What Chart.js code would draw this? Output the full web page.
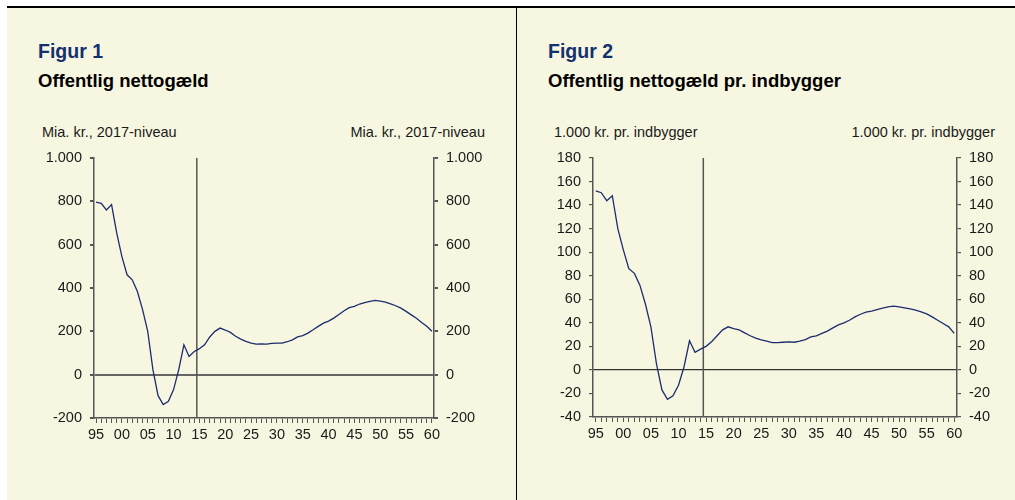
<!DOCTYPE html>
<html lang="da">
  <head>
    <meta charset="UTF-8" />
    <title>Offentlig nettogæld</title>
    <script src="https://cdn.jsdelivr.net/npm/chart.js"></script>
    <style>
      body {
        margin: 0;
        background: #fff;
        font-family: "Liberation Sans", Arial, sans-serif;
      }
      .ramme {
        position: absolute;
        left: 7px;
        top: 6px;
        width: 1008px;
        height: 492px;
        background: #f7f7e1;
        border-top: 2px solid #000;
      }
      .skille {
        position: absolute;
        left: 516px;
        top: 6px;
        width: 1px;
        height: 494px;
        background: #000;
      }
      .txt {
        position: absolute;
        white-space: nowrap;
      }
      .figur {
        font-size: 19.5px;
        line-height: 20px;
        font-weight: bold;
        color: #14306e;
        top: 41px;
      }
      .titel {
        font-size: 18.5px;
        line-height: 19px;
        font-weight: bold;
        color: #000;
        top: 71px;
      }
      .enhed {
        font-size: 14.5px;
        line-height: 15px;
        color: #1a1a1a;
        top: 125px;
      }
      canvas {
        position: absolute;
        top: 140px;
      }
    </style>
  </head>
  <body>
    <div class="ramme"></div>
    <div class="skille"></div>

    <div class="txt figur" style="left: 38px">Figur 1</div>
    <div class="txt titel" style="left: 38px">Offentlig nettogæld</div>
    <div class="txt enhed" style="left: 42px">Mia. kr., 2017-niveau</div>
    <div class="txt enhed" style="right: 530px">Mia. kr., 2017-niveau</div>

    <div class="txt figur" style="left: 548px">Figur 2</div>
    <div class="txt titel" style="left: 548px">Offentlig nettogæld pr. indbygger</div>
    <div class="txt enhed" style="left: 554px">1.000 kr. pr. indbygger</div>
    <div class="txt enhed" style="right: 20px">1.000 kr. pr. indbygger</div>

    <canvas id="figur1" width="517" height="300" style="left: 0px"></canvas>
    <canvas id="figur2" width="498" height="300" style="left: 517px"></canvas>

    <script>
      // år 1995-2060
      const aar = [
        1995, 1996, 1997, 1998, 1999, 2000, 2001, 2002, 2003, 2004, 2005,
        2006, 2007, 2008, 2009, 2010, 2011, 2012, 2013, 2014, 2015, 2016,
        2017, 2018, 2019, 2020, 2021, 2022, 2023, 2024, 2025, 2026, 2027,
        2028, 2029, 2030, 2031, 2032, 2033, 2034, 2035, 2036, 2037, 2038,
        2039, 2040, 2041, 2042, 2043, 2044, 2045, 2046, 2047, 2048, 2049,
        2050, 2051, 2052, 2053, 2054, 2055, 2056, 2057, 2058, 2059, 2060,
      ];

      // Figur 1: mia. kr., 2017-niveau
      const nettogaeld = [
        796, 791, 760, 785, 653, 545, 461, 438, 384, 300, 200, 23, -97, -138,
        -123, -69, 23, 138, 84, 107, 120, 138, 174, 200, 215, 206, 195, 177,
        164, 154, 146, 141, 142, 141, 144, 146, 146, 152, 161, 174, 180, 192,
        207, 223, 238, 247, 261, 278, 295, 309, 315, 326, 333, 338, 343, 339,
        335, 327, 318, 307, 292, 276, 260, 241, 223, 200,
      ];

      // Figur 2: 1.000 kr. pr. indbygger
      const prIndbygger = [
        152, 150.5, 143.7, 148, 120, 102, 86, 82, 72, 56, 36.6, 5.4, -17, -25,
        -22, -13, 2.5, 24.7, 15, 17.6, 20, 24, 29, 34, 36.6, 35, 34, 31.5, 29,
        27, 25.5, 24.4, 23.2, 23.2, 23.5, 23.8, 23.5, 24.4, 25.8, 28, 29, 31,
        33, 35.7, 38.3, 40, 42.2, 45, 47.3, 49, 50, 51.3, 52.4, 53.6, 54.1,
        53.6, 52.7, 51.9, 50.7, 49.3, 47.6, 45, 42.2, 39.4, 36.6, 31,
      ];

      const yTicks1 = [-200, 0, 200, 400, 600, 800, 1000];
      const yTicks2 = [-40, -20, 0, 20, 40, 60, 80, 100, 120, 140, 160, 180];
      const skilleAar = 2014.5; // lodret streg mellem historik og fremskrivning

      const aksefarve = "#555";
      const linjefarve = "#1c2c6e";

      Chart.defaults.font.family = "'Liberation Sans', Arial, sans-serif";
      Chart.defaults.font.size = 14.5;
      Chart.defaults.color = "#1a1a1a";

      const fmt = (v) => String(v).replace(/\B(?=(\d{3})+(?!\d))/g, ".");

      const lodretStreg = {
        id: "lodretStreg",
        beforeDatasetsDraw(chart) {
          const { ctx, chartArea, scales } = chart;
          const x = scales.x.getPixelForValue(skilleAar);
          ctx.save();
          ctx.strokeStyle = aksefarve;
          ctx.lineWidth = 1.5;
          ctx.beginPath();
          ctx.moveTo(x, chartArea.top);
          ctx.lineTo(x, chartArea.bottom);
          ctx.stroke();
          ctx.restore();
        },
      };

      function lavFigur(id, vaerdier, yTicks, opsaet) {
        const yAkse = (side, bredde, nullinje) => ({
          position: side,
          min: yTicks[0],
          max: yTicks[yTicks.length - 1],
          afterBuildTicks: (s) => {
            s.ticks = yTicks.map((v) => ({ value: v }));
          },
          afterFit: (s) => {
            s.width = bredde;
          },
          border: { display: true, color: aksefarve, width: 1.5 },
          grid: {
            drawOnChartArea: nullinje,
            color: (c) =>
              c.tick && c.tick.value === 0 ? opsaet.nulfarve : "transparent",
            lineWidth: opsaet.nulbredde,
            tickColor: aksefarve,
            tickLength: 4,
          },
          ticks: { padding: 8, callback: (v) => fmt(v) },
        });

        return new Chart(document.getElementById(id), {
          type: "line",
          data: {
            datasets: [
              {
                data: aar.map((a, i) => ({ x: a, y: vaerdier[i] })),
                borderColor: linjefarve,
                borderWidth: 1.3,
                pointRadius: 0,
                tension: 0,
              },
            ],
          },
          options: {
            responsive: false,
            animation: false,
            layout: { padding: { top: 18, left: 0, right: 0, bottom: 0 } },
            plugins: {
              legend: { display: false },
              tooltip: { enabled: false },
            },
            scales: {
              x: {
                type: "linear",
                min: aar[0] - opsaet.kant,
                max: aar[aar.length - 1] + opsaet.kant,
                afterBuildTicks: (s) => {
                  s.ticks = aar.map((a) => ({ value: a }));
                },
                afterFit: (s) => {
                  s.height = opsaet.xHoejde;
                },
                border: { display: true, color: aksefarve, width: 1.5 },
                grid: {
                  drawOnChartArea: false,
                  tickColor: aksefarve,
                  tickLength: 5,
                },
                ticks: {
                  autoSkip: false,
                  maxRotation: 0,
                  minRotation: 0,
                  padding: 3,
                  callback: (v) => (v % 5 === 0 ? String(v).slice(2) : ""),
                },
              },
              y: yAkse("left", opsaet.venstre, true),
              y2: yAkse("right", opsaet.hoejre, false),
            },
          },
          plugins: [lodretStreg],
        });
      }

      lavFigur("figur1", nettogaeld, yTicks1, {
        kant: 0.4,
        venstre: 94,
        hoejre: 83,
        xHoejde: 22,
        nulfarve: "#666",
        nulbredde: 2,
      });

      lavFigur("figur2", prIndbygger, yTicks2, {
        kant: 0.5,
        venstre: 76,
        hoejre: 58,
        xHoejde: 23,
        nulfarve: "#333",
        nulbredde: 1.2,
      });
    </script>
  </body>
</html>
